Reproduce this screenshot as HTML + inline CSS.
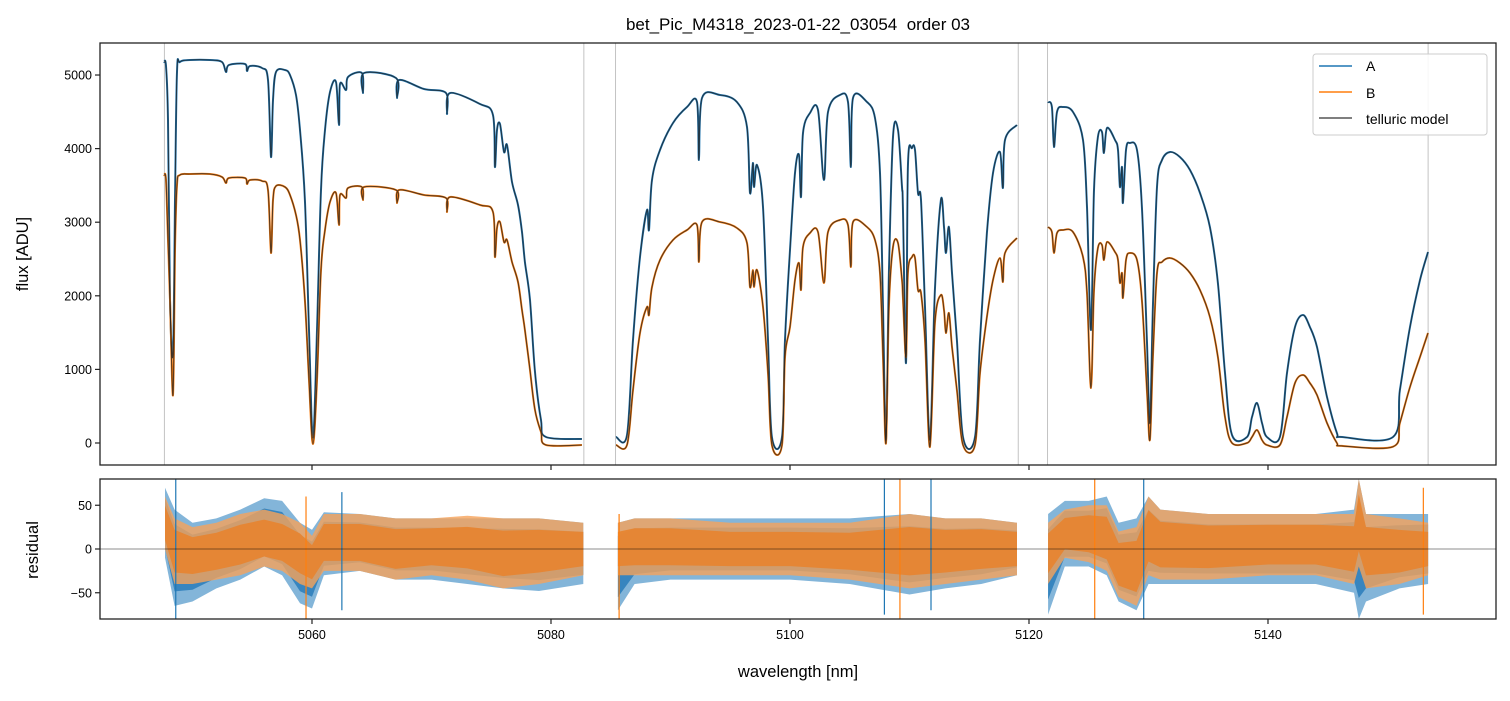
<!DOCTYPE html>
<html><head><meta charset="utf-8">
<style>
html,body{margin:0;padding:0;background:#fff;}
svg text{font-family:"Liberation Sans","DejaVu Sans",sans-serif;fill:#000;white-space:pre;}
</style></head>
<body>
<svg id="chart" width="1510" height="696" viewBox="0 0 1510 696" xmlns="http://www.w3.org/2000/svg">
<rect x="0" y="0" width="1510" height="696" fill="#fff"/>
<text x="798" y="30" font-size="17" text-anchor="middle" xml:space="preserve">bet_Pic_M4318_2023-01-22_03054  order 03</text>
<g id="topPanel"></g>
<g id="botPanel"></g>
<text transform="translate(28,254) rotate(-90)" font-size="16.5" text-anchor="middle">flux [ADU]</text>
<text transform="translate(38,550) rotate(-90)" font-size="16.5" text-anchor="middle">residual</text>
<text x="798" y="677" font-size="16.5" text-anchor="middle">wavelength [nm]</text>
<g>
<rect x="1313" y="54" width="174" height="81" rx="3" fill="#fff" fill-opacity="0.85" stroke="#ccc"/>
<line x1="1319" y1="66" x2="1352" y2="66" stroke="#1f77b4" stroke-width="1.5"/>
<text x="1366" y="71" font-size="14">A</text>
<line x1="1319" y1="92" x2="1352" y2="92" stroke="#ff7f0e" stroke-width="1.5"/>
<text x="1366" y="98" font-size="14">B</text>
<line x1="1319" y1="118" x2="1352" y2="118" stroke="#555" stroke-width="1.5"/>
<text x="1366" y="124" font-size="14">telluric model</text>
</g>
</svg>
<script>
const xTicks=[5060,5080,5100,5120,5140];
const yTicks=[0,1000,2000,3000,4000,5000];
const rTicks=[-50,0,50];
const seg1Wl=[5047.62,5047.78,5047.95,5048.12,5048.37,5048.54,5048.70,5048.95,5049.79,5051.46,5052.47,5052.80,5053.05,5054.39,5054.56,5054.81,5055.82,5056.32,5056.57,5056.74,5056.99,5057.74,5058.16,5058.66,5059.00,5059.41,5059.75,5060.08,5060.42,5060.75,5061.09,5061.51,5062.01,5062.26,5062.34,5062.85,5063.01,5064.18,5064.27,5064.35,5067.03,5067.11,5067.28,5069.37,5071.21,5071.30,5071.55,5074.06,5075.15,5075.31,5075.48,5075.73,5076.07,5076.32,5076.74,5077.24,5077.57,5077.82,5078.24,5078.66,5079.16,5079.58,5082.59];
const seg1A=[5177,5122,4389,1943,1223,3302,5041,5177,5204,5204,5177,5041,5136,5149,5054,5122,5095,4932,3886,4660,5041,5068,5000,4728,4253,3302,1535,68,1535,3438,4253,4769,4905,4321,4878,4796,4973,5027,4755,5027,4959,4687,4932,4810,4755,4470,4755,4606,4456,3750,4253,4334,3954,4049,3546,3234,2867,2459,1943,965,312,82,54];
const seg1B=[3641,3573,2758,1943,652,2622,3505,3641,3655,3655,3614,3533,3600,3600,3519,3573,3560,3438,2582,3302,3492,3478,3370,3098,2758,1943,856,-14,856,2351,2894,3275,3397,2962,3370,3329,3465,3478,3302,3478,3438,3261,3438,3370,3329,3139,3342,3234,3139,2527,2921,3003,2731,2758,2459,2188,1807,1535,992,448,149,-27,-27];
const seg2Wl=[5085.44,5086.36,5086.86,5087.45,5088.03,5088.20,5088.45,5089.12,5090.21,5091.38,5092.22,5092.38,5092.64,5094.14,5095.56,5096.40,5096.65,5096.90,5096.99,5097.24,5097.74,5098.16,5098.49,5099.33,5099.58,5100.00,5100.42,5100.75,5100.92,5101.09,5101.67,5102.34,5102.84,5103.18,5104.18,5104.85,5105.10,5105.27,5106.44,5107.11,5107.53,5107.78,5108.03,5108.28,5108.62,5109.04,5109.37,5109.45,5109.71,5109.87,5110.21,5110.46,5110.71,5110.96,5111.30,5111.71,5112.13,5112.63,5112.89,5113.05,5113.30,5113.56,5113.97,5114.48,5115.48,5115.90,5116.48,5116.99,5117.57,5117.82,5117.99,5118.99];
const seg2A=[82,109,1399,2527,3166,2894,3573,3981,4348,4565,4633,3845,4688,4728,4633,4293,3397,3804,3478,3777,3207,1399,82,82,1399,2622,3668,3913,3342,4212,4484,4524,3573,4497,4728,4633,3750,4688,4633,4416,3668,1848,41,2310,4158,4253,3478,3207,1087,3750,4008,3981,3397,3302,1848,41,2079,3302,2935,2582,2935,2310,1399,82,82,1399,2853,3668,3954,3465,4117,4321];
const seg2B=[-27,-27,720,1495,1848,1739,2120,2486,2758,2894,2962,2459,3003,3003,2921,2717,2120,2351,2120,2351,1848,951,-27,-27,1168,1576,2215,2446,2079,2663,2853,2867,2174,2867,3030,2962,2391,3003,2935,2758,2310,1168,0,1848,2663,2717,2215,1984,1168,2310,2527,2514,2079,2038,1399,-54,1630,2011,1807,1495,1766,1304,720,-27,-27,951,1712,2215,2514,2188,2582,2785];
const seg3Wl=[5121.59,5121.92,5122.09,5122.34,5122.84,5123.68,5124.52,5124.85,5125.19,5125.44,5125.77,5126.11,5126.27,5126.53,5127.20,5127.45,5127.61,5127.78,5127.86,5128.12,5128.45,5129.04,5129.45,5129.87,5130.12,5130.37,5130.71,5131.13,5131.80,5132.63,5133.47,5134.31,5135.14,5135.81,5136.40,5136.99,5138.24,5138.66,5139.08,5139.50,5139.91,5141.00,5141.59,5142.26,5142.93,5143.51,5144.10,5144.94,5145.77,5146.19,5150.46,5151.04,5151.88,5152.72,5153.39];
const seg3A=[4633,4565,4022,4497,4565,4497,4117,3207,1535,3438,4158,4226,3940,4280,4117,3981,3478,3750,3261,3981,4076,3981,3207,1399,272,1848,3478,3845,3954,3886,3709,3397,2935,2174,951,109,82,353,543,272,82,82,951,1576,1739,1576,1304,625,136,82,82,720,1576,2215,2595];
const seg3B=[2935,2867,2582,2853,2894,2867,2527,2038,747,2079,2649,2690,2486,2731,2595,2486,2174,2310,1970,2486,2582,2486,1943,720,41,1168,2310,2459,2514,2446,2310,2079,1712,1168,353,0,0,82,177,41,-27,-27,353,815,924,815,652,272,0,-40,-50,272,761,1168,1495];
const res1Wl=[5047.7,5048.5,5050,5052,5054,5056,5057.5,5059,5060,5061,5064,5067,5070,5073,5076,5079,5082.7];
const res1AUp=[70,45,30,35,45,58,55,30,22,42,40,35,35,35,35,35,30];
const res1ALo=[-10,-65,-60,-45,-35,-20,-30,-62,-68,-30,-25,-35,-35,-40,-45,-48,-40];
const res1BUp=[60,35,25,30,40,45,40,30,15,40,40,35,35,38,35,35,30];
const res1BLo=[0,-40,-40,-35,-30,-20,-25,-40,-45,-25,-25,-35,-30,-35,-45,-40,-30];
const res2Wl=[5085.6,5087,5090,5095,5100,5105,5110,5113,5116,5119];
const res2AUp=[30,35,35,35,35,35,40,35,35,30];
const res2ALo=[-70,-40,-35,-35,-35,-40,-52,-45,-40,-30];
const res2BUp=[30,35,35,30,30,30,40,35,35,30];
const res2BLo=[-30,-30,-30,-30,-30,-35,-45,-40,-35,-30];
const res3Wl=[5121.6,5123,5125,5126.5,5127.5,5129,5130,5131,5135,5140,5144,5147.2,5147.6,5148.2,5151,5153.4];
const res3AUp=[40,55,55,60,30,35,60,45,40,40,40,45,80,40,40,40];
const res3ALo=[-75,-20,-20,-30,-60,-70,-40,-40,-40,-40,-40,-50,-80,-60,-45,-40];
const res3BUp=[30,45,50,50,20,25,60,45,40,40,40,40,80,40,35,30];
const res3BLo=[-40,-10,-15,-25,-55,-65,-30,-35,-35,-30,-30,-40,-20,-45,-40,-30];
const spikeWl=[5048.6,5059.5,5062.5,5085.7,5107.9,5109.2,5111.8,5125.5,5129.6,5153.0];
const spikeLo=[-80,-80,-70,-80,-75,-80,-70,-80,-80,-75];
const spikeHi=[80,60,65,40,80,80,80,80,80,70];
const edgeWl=[5047.65,5082.75,5085.4,5119.1,5121.55,5153.4];

const NS='http://www.w3.org/2000/svg';
const L=100,R=1496,x0=5042.26,x1=5159.08;
const T1=43,B1=465,y0=-299,y1=5435;
const T2=479,B2=619,r0=-80,r1=80;
const sx=w=>L+(w-x0)/(x1-x0)*(R-L);
const sy=f=>B1-(f-y0)/(y1-y0)*(B1-T1);
const sr=v=>B2-(v-r0)/(r1-r0)*(B2-T2);
const topG=document.getElementById('topPanel'),botG=document.getElementById('botPanel');
function mk(tag,attrs,parent){const e=document.createElementNS(NS,tag);for(const k in attrs)e.setAttribute(k,attrs[k]);parent.appendChild(e);return e;}
const defs=mk('defs',{},document.getElementById('chart'));
const c1=mk('clipPath',{id:'c1'},defs);mk('rect',{x:L,y:T1,width:R-L,height:B1-T1},c1);
const c2=mk('clipPath',{id:'c2'},defs);mk('rect',{x:L,y:T2,width:R-L,height:B2-T2},c2);
const g1=mk('g',{'clip-path':'url(#c1)'},topG);
const g2=mk('g',{'clip-path':'url(#c2)'},botG);

edgeWl.forEach(w=>{
  const e=mk('line',{x1:sx(w),x2:sx(w),y1:T1,y2:B1,stroke:'#aaa','stroke-width':1,opacity:0.7},g1);
  
  
});
function smoothPath(pts){
  let d='M'+pts[0][0].toFixed(1)+','+pts[0][1].toFixed(1);
  for(let i=0;i<pts.length-1;i++){
    const p0=pts[Math.max(0,i-1)],p1=pts[i],p2=pts[i+1],p3=pts[Math.min(pts.length-1,i+2)];
    const c1x=p1[0]+(p2[0]-p0[0])/6,c1y=p1[1]+(p2[1]-p0[1])/6;
    const c2x=p2[0]-(p3[0]-p1[0])/6,c2y=p2[1]-(p3[1]-p1[1])/6;
    d+=' C'+c1x.toFixed(1)+','+c1y.toFixed(1)+' '+c2x.toFixed(1)+','+c2y.toFixed(1)+' '+p2[0].toFixed(1)+','+p2[1].toFixed(1);
  }
  return d;
}
function line(wl,vals,color,width,name,op){
  const pts=wl.map((w,i)=>[sx(w),sy(vals[i])]);
  const p=mk('path',{d:smoothPath(pts),fill:'none',stroke:color,'stroke-width':width,'stroke-linejoin':'round',opacity:op},g1);
  
  
}
const segs=[[seg1Wl,seg1A,seg1B],[seg2Wl,seg2A,seg2B],[seg3Wl,seg3A,seg3B]];
segs.forEach((s,k)=>{
  line(s[0],s[1],'#1f77b4',2,'series-a-segment-'+(k+1),1);
  line(s[0],s[2],'#ff7f0e',2,'series-b-segment-'+(k+1),1);
  line(s[0],s[1],'#222',1.1,'telluric-model-a-segment-'+(k+1),0.75);
  line(s[0],s[2],'#222',1.1,'telluric-model-b-segment-'+(k+1),0.75);
});
function band(wl,up,lo,color,name,op,f){
  const up2=up.map((u,i)=>(u+lo[i])/2+(u-lo[i])/2*f), lo2=lo.map((l,i)=>(up[i]+l)/2-(up[i]-l)/2*f);
  const pts=wl.map((w,i)=>sx(w).toFixed(1)+','+sr(up2[i]).toFixed(1)).concat(wl.slice().reverse().map((w,j)=>{const i=wl.length-1-j;return sx(w).toFixed(1)+','+sr(lo2[i]).toFixed(1);}));
  const p=mk('polygon',{points:pts.join(' '),fill:color,opacity:op},g2);
  
  
}
const resSets=[[res1Wl,res1AUp,res1ALo,res1BUp,res1BLo],[res2Wl,res2AUp,res2ALo,res2BUp,res2BLo],[res3Wl,res3AUp,res3ALo,res3BUp,res3BLo]];
resSets.forEach((r,k)=>{
  band(r[0],r[1],r[2],'#5a9ccc','residual-a-outer-'+(k+1),0.75,1);
  band(r[0],r[1],r[2],'#2f80bb','residual-a-core-'+(k+1),0.9,0.7);
  band(r[0],r[3],r[4],'#f6a35a','residual-b-outer-'+(k+1),0.8,1);
  band(r[0],r[3],r[4],'#e7842f','residual-b-core-'+(k+1),0.9,0.65);
});
spikeWl.forEach((w,i)=>{
  const e=mk('line',{x1:sx(w),x2:sx(w),y1:sr(spikeHi[i]),y2:sr(spikeLo[i]),stroke:i%2?'#ff7f0e':'#1f77b4','stroke-width':1.2},g2);
  
  
});
const z=mk('line',{x1:L,x2:R,y1:sr(0),y2:sr(0),stroke:'#000','stroke-width':0.8,opacity:0.6},g2);


[[T1,B1,topG],[T2,B2,botG]].forEach(([t,b,par])=>{
  const f=mk('rect',{x:L,y:t,width:R-L,height:b-t,fill:'none',stroke:'#222','stroke-width':1.3},par);
  
  
});
xTicks.forEach(v=>{
  const x=sx(v);
  mk('line',{x1:x,x2:x,y1:B1,y2:B1+5,stroke:'#222','stroke-width':1.2},topG);
  mk('line',{x1:x,x2:x,y1:B2,y2:B2+5,stroke:'#222','stroke-width':1.2},botG);
  const t=mk('text',{x:x,y:B2+20,'font-size':12.5,'text-anchor':'middle'},botG);
  t.textContent=v;
  
  
});
yTicks.forEach(v=>{
  const y=sy(v);
  mk('line',{x1:L-5,x2:L,y1:y,y2:y,stroke:'#222','stroke-width':1.2},topG);
  const t=mk('text',{x:L-8,y:y+4.5,'font-size':12.5,'text-anchor':'end'},topG);
  t.textContent=v;
  
  
});
rTicks.forEach(v=>{
  const y=sr(v);
  mk('line',{x1:L-5,x2:L,y1:y,y2:y,stroke:'#222','stroke-width':1.2},botG);
  const t=mk('text',{x:L-8,y:y+4.5,'font-size':12.5,'text-anchor':'end'},botG);
  t.textContent=v<0?'\u2212'+Math.abs(v):v;
  
  
});
</script>
</body></html>
